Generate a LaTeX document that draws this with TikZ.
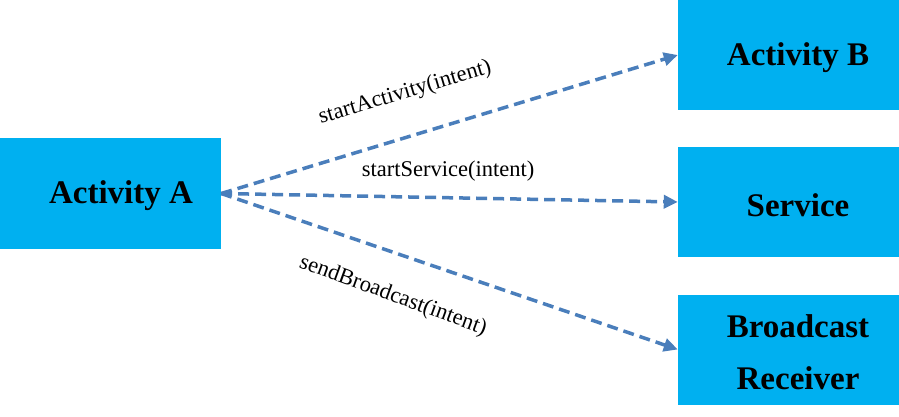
\documentclass[tikz,border=0pt]{standalone}
\usepackage{fontspec}
\setmainfont{Liberation Serif}
\usetikzlibrary{arrows.meta}
\definecolor{boxcyan}{HTML}{00B0F0}
\definecolor{linkblue}{HTML}{4A7EBB}
\tikzset{
  box/.style={fill=boxcyan, draw=none, minimum width=221pt, minimum height=110pt, inner sep=0pt},
  boxtext/.style={font=\fontsize{33}{52}\selectfont\bfseries, align=center, inner sep=0pt},
  conn/.style={draw=linkblue, line width=3.5pt, dash pattern=on 11pt off 6pt, -{Triangle[length=14pt,width=13pt]}},
  lbl/.style={font=\fontsize{22.5}{26}\selectfont, inner sep=0pt}
}
\begin{document}
\begin{tikzpicture}[x=1pt,y=-1pt]
\useasboundingbox (0,0) rectangle (899,417);
\node[box] (A) at (110.5,193.5) {};
\node[box] (B) at (788.5,55) {};
\node[box] (S) at (788.5,202) {};
\node[box] (R) at (788.5,349.5) {};
\node[boxtext] (At) at (121,196) {Activity A};
\node[boxtext] (Bt) at (798,58) {Activity B};
\node[boxtext] (St) at (798,205) {Service};
\node[boxtext] (Rt) at (798,352) {Broadcast\\Receiver};
\draw[conn] (A.east) -- (B.west);
\draw[conn] (A.east) -- (S.west);
\draw[conn] (A.east) -- (R.west);
\node[lbl, rotate=16.5] (l1) at (405,93) {startActivity(intent)};
\node[lbl] (l2) at (448,171) {startService(intent)};
\node[lbl, rotate=-20] (l3) at (393,296) {sendBroadcast(intent)};
\end{tikzpicture}
\end{document}
